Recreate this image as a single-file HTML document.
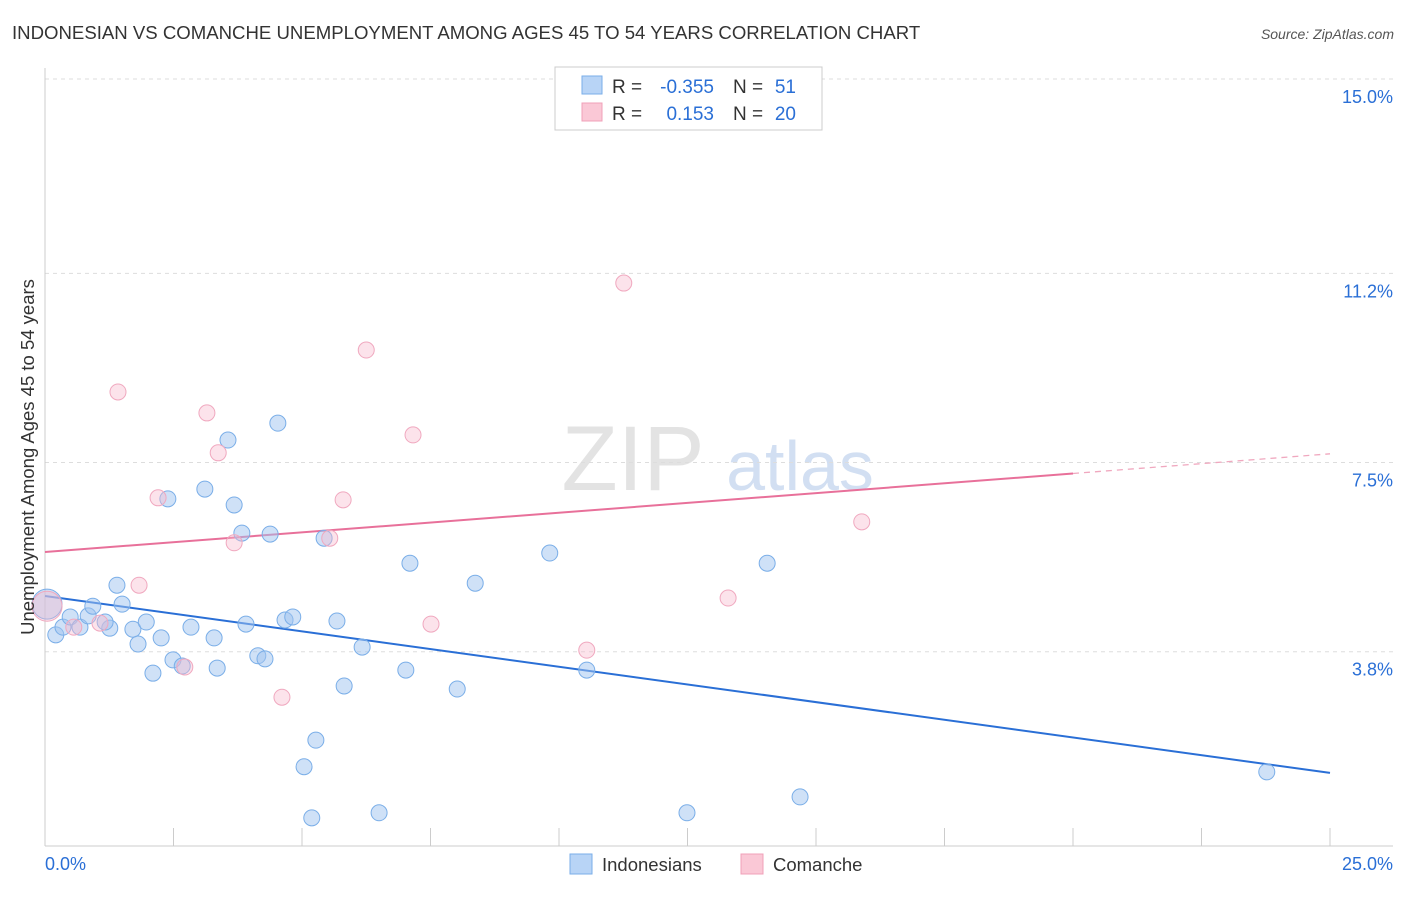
<!DOCTYPE html>
<html><head><meta charset="utf-8"><style>
body{margin:0;background:#fff;font-family:"Liberation Sans",sans-serif;}
svg text{font-family:"Liberation Sans",sans-serif;}
</style></head><body>
<svg id="chart" width="1406" height="892" xmlns="http://www.w3.org/2000/svg">
<text x="12" y="39" font-size="18.6" fill="#333">INDONESIAN VS COMANCHE UNEMPLOYMENT AMONG AGES 45 TO 54 YEARS CORRELATION CHART</text>
<text x="1394" y="39" font-size="14" fill="#555" text-anchor="end" font-style="italic">Source: ZipAtlas.com</text>
<g>
<text x="633" y="490" font-size="92" fill="#ddd" text-anchor="middle" font-family="Liberation Serif" opacity="0.8">ZIP</text>
<text x="800" y="490" font-size="70" fill="#c8d8f0" text-anchor="middle" opacity="0.8">atlas</text>
</g>
<g id="grid"></g>
<g id="axes"></g>
<g id="trends"></g>
<g id="pts"></g>
<text transform="translate(34,457) rotate(-90)" font-size="18.5" fill="#333" text-anchor="middle">Unemployment Among Ages 45 to 54 years</text>
<g>
<rect x="555" y="67" width="267" height="63" fill="#fff" stroke="#ccc"/>
<rect x="582" y="76" width="20" height="18" fill="#b8d4f6" stroke="#7aaee8"/>
<rect x="582" y="103" width="20" height="18" fill="#fac8d6" stroke="#f0a0b8"/>
<text x="612" y="93" font-size="19" fill="#333">R =</text>
<text x="714" y="93" font-size="19" fill="#2a6fd6" text-anchor="end">-0.355</text>
<text x="733" y="93" font-size="19" fill="#333">N =</text>
<text x="796" y="93" font-size="19" fill="#2a6fd6" text-anchor="end">51</text>
<text x="612" y="120" font-size="19" fill="#333">R =</text>
<text x="714" y="120" font-size="19" fill="#2a6fd6" text-anchor="end">0.153</text>
<text x="733" y="120" font-size="19" fill="#333">N =</text>
<text x="796" y="120" font-size="19" fill="#2a6fd6" text-anchor="end">20</text>
</g>
<g>
<rect x="570" y="854" width="22" height="20" fill="#b8d4f6" stroke="#7aaee8"/>
<text x="602" y="871" font-size="18.5" fill="#333">Indonesians</text>
<rect x="741" y="854" width="22" height="20" fill="#fac8d6" stroke="#f0a0b8"/>
<text x="773" y="871" font-size="18.5" fill="#333">Comanche</text>
</g>
</svg>
<script>
const yTicks=[15.0,11.2,7.5,3.8];
const yTickLabels=["15.0%","11.2%","7.5%","3.8%"];
const xTicks=[0,2.5,5,7.5,10,12.5,15,17.5,20,22.5,25];
const xEndLabels=["0.0%","25.0%"];
const indoX=[0.04,0.21,0.35,0.49,0.68,0.84,0.93,1.26,1.40,1.50,1.71,1.81,1.97,2.10,2.26,2.39,2.49,2.67,2.84,3.11,3.29,3.35,3.56,3.68,3.83,3.91,4.14,4.28,4.38,4.53,4.67,4.82,5.04,5.19,5.27,5.43,5.68,5.82,6.17,6.5,7.02,7.10,8.02,8.37,9.82,10.54,12.49,14.05,14.69,23.77,1.17];
const indoY=[4.73,4.13,4.28,4.48,4.28,4.50,4.69,4.26,5.10,4.73,4.24,3.95,4.38,3.38,4.07,6.79,3.64,3.52,4.28,6.98,4.07,3.48,7.94,6.67,6.12,4.34,3.72,3.66,6.10,8.27,4.42,4.48,1.55,0.55,2.07,6.02,4.40,3.13,3.89,0.65,3.44,5.53,3.07,5.14,5.73,3.44,0.65,5.53,0.96,1.45,4.38];
const comX=[0.04,0.56,1.07,1.42,1.83,2.20,2.72,3.15,3.37,3.68,4.61,5.54,5.80,6.25,7.16,7.51,10.54,11.26,13.29,15.89];
const comY=[4.69,4.28,4.36,8.88,5.10,6.81,3.50,8.47,7.69,5.93,2.91,6.02,6.77,9.70,8.04,4.34,3.83,11.01,4.85,6.34];
const indoTrend=[4.89,1.43];
const comTrend=[5.75,7.67];
const NS="http://www.w3.org/2000/svg";
const X=v=>45+v*51.4, Y=v=>846-v*51.13;
function mk(tag,attrs,parent){const e=document.createElementNS(NS,tag);for(const k in attrs)e.setAttribute(k,attrs[k]);parent.appendChild(e);return e;}
const grid=document.getElementById('grid'),axes=document.getElementById('axes'),tr=document.getElementById('trends'),pts=document.getElementById('pts');
yTicks.forEach((t,i)=>{
 const l=mk('line',{x1:45,x2:1393,y1:Y(t),y2:Y(t),stroke:'#ddd','stroke-dasharray':'4,4'},grid);
 
 
 const tx=mk('text',{x:1393,y:Y(t)+24,'font-size':18,fill:'#2a6fd6','text-anchor':'end'},grid);
 tx.textContent=yTickLabels[i];
 
 
});
mk('line',{x1:45,x2:45,y1:68,y2:846,stroke:'#ccc'},axes);
mk('line',{x1:45,x2:1393,y1:846,y2:846,stroke:'#ccc'},axes);
xTicks.forEach(t=>{const l=mk('line',{x1:X(t),x2:X(t),y1:828,y2:846,stroke:'#ccc'},axes);
 
 });
const xl0=mk('text',{x:45,y:870,'font-size':18,fill:'#2a6fd6'},axes);xl0.textContent=xEndLabels[0];


const xl1=mk('text',{x:1393,y:870,'font-size':18,fill:'#2a6fd6','text-anchor':'end'},axes);xl1.textContent=xEndLabels[1];


function dot(x,y,i,blue){
 const big=i===0;
 const c=mk('circle',{cx:X(x),cy:Y(y),r:big?15:8,fill:blue?'rgba(160,196,240,0.5)':'rgba(248,185,205,0.4)',stroke:blue?'#7aaee8':'#f0a8bf','stroke-width':1},pts);
 
 
}
indoX.forEach((x,i)=>dot(x,indoY[i],i,true));
comX.forEach((x,i)=>dot(x,comY[i],i,false));
const bl=mk('line',{x1:X(0),y1:Y(indoTrend[0]),x2:X(25),y2:Y(indoTrend[1]),stroke:'#2a6fd6','stroke-width':2},tr);


const c20=comTrend[0]+(comTrend[1]-comTrend[0])*20/25;
const pl=mk('line',{x1:X(0),y1:Y(comTrend[0]),x2:X(20),y2:Y(c20),stroke:'#e8709a','stroke-width':2},tr);


const pd=mk('line',{x1:X(20),y1:Y(c20),x2:X(25),y2:Y(comTrend[1]),stroke:'#f0a8bf','stroke-width':1.3,'stroke-dasharray':'6,5'},tr);


</script>
</body></html>
